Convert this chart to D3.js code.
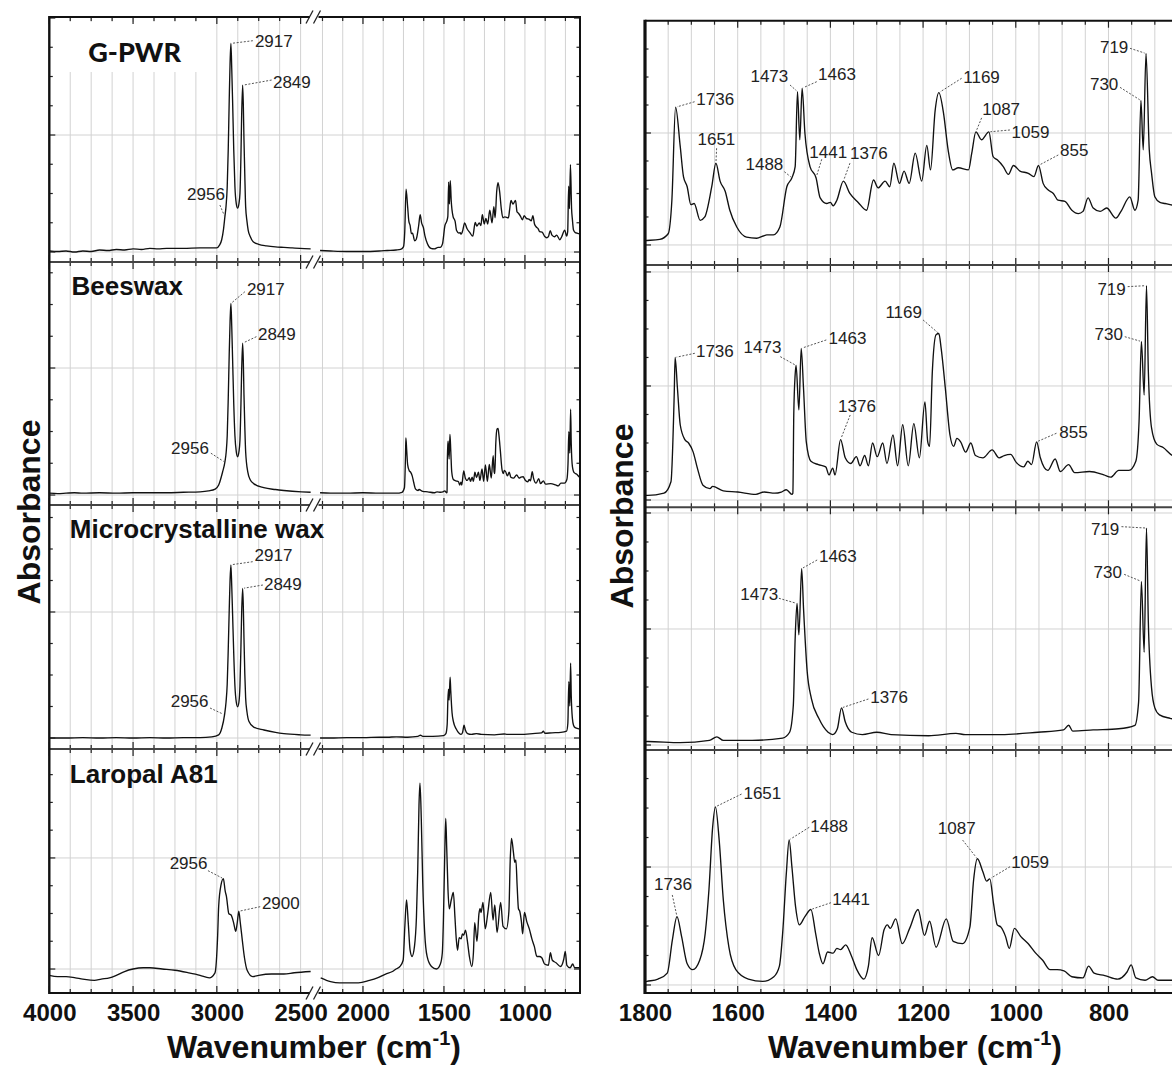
<!DOCTYPE html>
<html><head><meta charset="utf-8">
<script src="https://cdnjs.cloudflare.com/ajax/libs/d3/7.8.5/d3.min.js"></script>
<style>body{margin:0;background:#fff;} svg{display:block;}</style>
</head><body><svg id="chart" width="1172" height="1072"></svg>
<script>
// ---------------- DATA ----------------
const sampleNames = ["G-PWR", "Beeswax", "Microcrystalline wax", "Laropal A81"];

// [wavenumber cm-1, absorbance (a.u.)]
const gpwr = [
[4000,0.02],[3950,0.01],[3900,0.02],[3850,0.0],[3800,0.02],[3750,0.01],[3700,0.04],[3650,0.03],[3600,0.05],[3550,0.04],[3500,0.06],[3450,0.05],[3400,0.07],[3350,0.06],[3300,0.07],[3200,0.07],[3100,0.08],[3050,0.08],[3001,0.08],[2985,0.13],[2971,0.24],[2960,0.45],[2952,0.69],[2945,0.9],[2938,1.28],[2932,2.0],[2926,2.98],[2921,3.7],[2916,4.09],[2911,3.6],[2906,2.98],[2899,2.0],[2892,1.28],[2884,0.95],[2876,0.86],[2868,0.95],[2862,1.15],[2856,1.9],[2852,2.65],[2846,3.27],[2842,2.9],[2838,2.2],[2833,1.5],[2828,0.89],[2820,0.6],[2813,0.43],[2800,0.3],[2783,0.2],[2750,0.15],[2703,0.12],[2650,0.1],[2600,0.09],[2550,0.08],[2504,0.07],[2440,0.06],
[2265,0.03],[2200,0.02],[2100,0.01],[2000,0.01],[1900,0.02],[1850,0.03],[1796,0.04],[1768,0.05],[1750,0.10],[1742,0.40],[1734,1.23],[1724,0.88],[1717,0.61],[1709,0.52],[1701,0.36],[1694,0.37],[1681,0.22],[1671,0.25],[1656,0.52],[1647,0.73],[1638,0.57],[1627,0.48],[1617,0.31],[1602,0.16],[1581,0.07],[1559,0.06],[1545,0.08],[1537,0.09],[1523,0.09],[1509,0.16],[1494,0.52],[1483,0.60],[1476,0.70],[1471,1.37],[1466,0.94],[1461,1.40],[1455,1.00],[1444,0.70],[1431,0.60],[1422,0.42],[1408,0.37],[1400,0.38],[1394,0.35],[1386,0.40],[1372,0.57],[1358,0.46],[1340,0.38],[1322,0.31],[1307,0.58],[1297,0.51],[1282,0.57],[1272,0.52],[1263,0.73],[1251,0.55],[1241,0.66],[1230,0.55],[1217,0.82],[1203,0.57],[1192,0.89],[1184,0.67],[1174,1.2],[1166,1.36],[1156,1.18],[1146,0.85],[1136,0.67],[1124,0.69],[1102,0.67],[1095,0.82],[1086,1.01],[1074,0.94],[1058,1.01],[1049,0.79],[1040,0.76],[1027,0.70],[1016,0.63],[1005,0.71],[991,0.66],[973,0.64],[961,0.61],[951,0.71],[941,0.55],[930,0.49],[919,0.46],[909,0.40],[894,0.39],[879,0.31],[865,0.28],[855,0.30],[844,0.42],[833,0.33],[818,0.30],[804,0.33],[784,0.24],[773,0.30],[754,0.43],[743,0.31],[736,0.40],[730,1.29],[725,0.85],[719,1.71],[712,0.85],[707,0.64],[700,0.43],[689,0.38],[678,0.37],[667,0.36],[655,0.35]
];

const beeswax = [
[4000,0.04],[3950,0.03],[3900,0.04],[3850,0.05],[3800,0.04],[3700,0.05],[3600,0.04],[3500,0.05],[3400,0.05],[3300,0.05],[3200,0.06],[3100,0.07],[3050,0.09],[3010,0.13],[2989,0.22],[2966,0.5],[2952,0.72],[2944,0.95],[2938,1.3],[2932,2.1],[2926,3.1],[2921,3.8],[2916,4.2],[2911,3.7],[2906,3.0],[2899,2.0],[2892,1.3],[2884,0.95],[2876,0.84],[2868,0.95],[2862,1.2],[2856,2.0],[2852,2.7],[2846,3.33],[2842,2.95],[2838,2.2],[2833,1.5],[2828,0.95],[2815,0.5],[2800,0.33],[2780,0.25],[2720,0.16],[2650,0.12],[2600,0.1],[2494,0.07],[2440,0.06],
[2265,0.05],[2200,0.04],[2100,0.04],[2000,0.05],[1900,0.04],[1850,0.04],[1794,0.04],[1759,0.06],[1744,0.16],[1737,0.92],[1735,1.25],[1730,0.98],[1724,0.66],[1714,0.53],[1706,0.50],[1696,0.42],[1687,0.28],[1675,0.13],[1660,0.10],[1654,0.12],[1631,0.08],[1600,0.07],[1561,0.05],[1543,0.07],[1520,0.06],[1506,0.07],[1495,0.09],[1483,0.05],[1481,0.06],[1479,0.75],[1476,1.10],[1474,1.18],[1468,0.79],[1463,1.33],[1458,0.98],[1452,0.51],[1442,0.34],[1426,0.31],[1410,0.29],[1403,0.22],[1395,0.28],[1390,0.22],[1378,0.53],[1368,0.37],[1356,0.32],[1344,0.38],[1336,0.30],[1326,0.39],[1318,0.30],[1309,0.50],[1299,0.38],[1287,0.50],[1278,0.32],[1265,0.57],[1255,0.30],[1244,0.66],[1232,0.30],[1220,0.67],[1208,0.37],[1196,0.86],[1190,0.51],[1186,0.47],[1180,1.13],[1172,1.45],[1166,1.46],[1161,1.33],[1152,0.98],[1142,0.57],[1134,0.47],[1127,0.54],[1119,0.51],[1108,0.42],[1097,0.50],[1087,0.39],[1071,0.37],[1051,0.44],[1036,0.37],[1025,0.39],[1011,0.40],[999,0.33],[983,0.29],[974,0.34],[966,0.31],[955,0.51],[947,0.37],[931,0.26],[915,0.36],[904,0.25],[886,0.31],[873,0.24],[841,0.25],[810,0.22],[795,0.20],[778,0.26],[756,0.26],[741,0.34],[734,0.69],[729,1.39],[723,0.92],[718,1.88],[714,1.13],[707,0.63],[696,0.49],[682,0.46],[662,0.39],[655,0.38]
];

const microwax = [
[4000,0.0],[3900,0.0],[3800,0.01],[3700,0.0],[3600,0.01],[3500,0.0],[3400,0.01],[3300,0.0],[3200,0.01],[3100,0.01],[3030,0.03],[2989,0.08],[2970,0.25],[2954,0.58],[2945,0.9],[2938,1.35],[2932,2.2],[2926,3.2],[2921,3.95],[2916,4.33],[2911,3.8],[2906,3.1],[2899,2.1],[2892,1.3],[2884,0.9],[2876,0.78],[2868,0.9],[2862,1.3],[2856,2.3],[2852,3.1],[2846,3.74],[2842,3.3],[2838,2.5],[2833,1.6],[2828,1.0],[2820,0.65],[2808,0.41],[2780,0.27],[2719,0.2],[2650,0.14],[2600,0.11],[2500,0.08],[2440,0.07],
[2265,0.0],[2200,0.0],[2100,0.01],[2000,0.01],[1900,0.02],[1850,0.02],[1794,0.03],[1724,0.02],[1661,0.04],[1645,0.07],[1631,0.04],[1569,0.04],[1503,0.06],[1488,0.11],[1480,0.34],[1476,0.92],[1472,1.22],[1468,0.95],[1462,1.52],[1458,1.18],[1450,0.63],[1441,0.40],[1425,0.23],[1405,0.11],[1395,0.09],[1385,0.14],[1376,0.32],[1368,0.20],[1354,0.11],[1331,0.09],[1300,0.11],[1269,0.09],[1188,0.08],[1129,0.10],[1109,0.09],[1031,0.09],[952,0.11],[897,0.13],[886,0.17],[877,0.12],[833,0.13],[778,0.14],[743,0.17],[735,0.37],[729,1.41],[723,0.80],[718,1.87],[714,1.06],[707,0.49],[700,0.32],[690,0.26],[667,0.23],[655,0.22]
];

const laropal = [
[4000,-0.02],[3950,-0.03],[3900,-0.03],[3844,-0.04],[3800,-0.05],[3731,-0.06],[3690,-0.05],[3641,-0.04],[3600,-0.02],[3551,0.01],[3500,0.03],[3439,0.04],[3400,0.04],[3326,0.03],[3250,0.02],[3169,0.0],[3100,-0.02],[3045,-0.04],[3011,0.0],[2995,0.3],[2989,0.53],[2975,0.7],[2961,0.75],[2950,0.65],[2943,0.61],[2928,0.47],[2915,0.46],[2900,0.4],[2887,0.33],[2878,0.4],[2869,0.49],[2860,0.4],[2848,0.26],[2835,0.12],[2819,0.02],[2786,-0.03],[2750,-0.02],[2674,-0.01],[2600,-0.01],[2538,0.0],[2440,0.01],
[2261,-0.04],[2200,-0.07],[2144,-0.08],[2028,-0.08],[1960,-0.06],[1911,-0.04],[1860,-0.01],[1818,0.01],[1796,0.03],[1772,0.05],[1752,0.10],[1741,0.38],[1731,0.58],[1721,0.41],[1709,0.18],[1697,0.13],[1682,0.21],[1670,0.44],[1662,0.81],[1654,1.34],[1648,1.51],[1640,1.23],[1631,0.72],[1619,0.32],[1604,0.13],[1577,0.05],[1546,0.03],[1522,0.07],[1510,0.16],[1503,0.44],[1495,0.95],[1489,1.23],[1483,1.00],[1475,0.66],[1467,0.51],[1455,0.58],[1442,0.64],[1432,0.44],[1424,0.27],[1416,0.18],[1406,0.28],[1394,0.27],[1386,0.31],[1378,0.30],[1367,0.34],[1355,0.25],[1343,0.13],[1328,0.05],[1318,0.16],[1310,0.40],[1296,0.25],[1284,0.47],[1277,0.51],[1271,0.48],[1259,0.56],[1245,0.35],[1229,0.48],[1211,0.64],[1197,0.42],[1186,0.54],[1172,0.32],[1150,0.56],[1135,0.37],[1115,0.35],[1099,0.49],[1091,0.89],[1083,1.07],[1071,0.96],[1063,0.88],[1056,0.90],[1048,0.69],[1040,0.51],[1032,0.49],[1022,0.41],[1014,0.31],[1003,0.48],[989,0.41],[973,0.35],[957,0.27],[942,0.21],[926,0.13],[911,0.13],[896,0.12],[879,0.07],[855,0.06],[843,0.16],[831,0.10],[808,0.08],[780,0.05],[760,0.11],[751,0.17],[741,0.06],[721,0.04],[705,0.07],[693,0.04],[665,0.04],[655,0.04]
];

const spectra = [gpwr, beeswax, microwax, laropal];

const leftTickLabels = [4000, 3500, 3000, 2500, 2000, 1500, 1000];
const rightTickLabels = [1800, 1600, 1400, 1200, 1000, 800];

// peak annotations: [panel index, label, target wavenumber, text anchor]
const leftPeakLabels = [
[0,"2917",2916,"start"],[0,"2849",2846,"start"],[0,"2956",2952,"end"],
[1,"2917",2916,"start"],[1,"2849",2846,"start"],[1,"2956",2952,"end"],
[2,"2917",2916,"start"],[2,"2849",2846,"start"],[2,"2956",2954,"end"],
[3,"2956",2961,"end"],[3,"2900",2869,"start"]
];
const rightPeakLabels = [
[0,"1736",1734,"start"],[0,"1651",1647,"middle"],[0,"1473",1471,"end"],[0,"1463",1461,"start"],[0,"1488",1483,"end"],[0,"1441",1431,"start"],[0,"1376",1372,"start"],[0,"1169",1166,"start"],[0,"1087",1086,"start"],[0,"1059",1058,"start"],[0,"855",951,"start"],[0,"719",719,"end"],[0,"730",730,"end"],
[1,"1736",1735,"start"],[1,"1473",1474,"end"],[1,"1463",1463,"start"],[1,"1376",1378,"start"],[1,"1169",1166,"end"],[1,"855",955,"start"],[1,"719",718,"end"],[1,"730",729,"end"],
[2,"1463",1462,"start"],[2,"1473",1472,"end"],[2,"1376",1376,"start"],[2,"719",718,"end"],[2,"730",729,"end"],
[3,"1736",1731,"middle"],[3,"1651",1648,"start"],[3,"1488",1489,"start"],[3,"1441",1442,"start"],[3,"1087",1083,"middle"],[3,"1059",1056,"start"]
];

// ---------------- LAYOUT ----------------
// label placement relative to the peak: [text dx, text dy, leader dx, leader dy]
const leftLabelOffsets = [
[24,3.6,22,-2.7],[30.3,2.8,29,-5.2],[0,-16.8,-5,-11.8],
[16,-8.5,14,-11.8],[15.3,-3.2,13.8,-6.5],[-16,-8,-14,-9],
[23.7,-3.8,21.8,-3.1],[21.3,1.6,20.3,-3.4],[-16,-7.8,-14.5,-6.8],
[-15.9,-9.7,-15.4,-8],[23.1,-2.3,21.4,-4.6]
];
const rightLabelOffsets = [
[20.7,-2.2,19,-5.5],[0.5,-18,0.7,-15],[-9.2,-10,-7.5,-6.6],[16,-8,14.6,-6.5],[-8.6,-7.8,-7.6,-6.1],[-6.7,-19.8,5.7,-18.5],[6.6,-22,6.6,-18],[24.4,-9.7,22.8,-14.4],[6.3,-16.9,5.7,-14],[22.7,6.1,21,-1.9],[21.5,-9.5,19.8,-10.5],[-17.7,-0.5,-16,-5.2],[-22.6,-10.5,-20.9,-13.2],
[20.8,-0.8,19.7,-4.2],[-14.7,-12.2,-15.8,-8.8],[27.4,-4.1,25.1,-8.4],[-2.5,-27.9,9.6,-24.6],[-16.9,-15.9,-15.8,-13.6],[22.7,-4.2,19.8,-8.6],[-20.7,9.3,-18.8,1],[-18.4,-1.5,-16.6,-4.8],
[17.3,-7,15.5,-8.7],[-18.9,-3.5,-18.1,-5.2],[28.7,-4.6,26.9,-8.9],[-27.2,6.9,-25,-1.4],[-19.4,-3.1,-17.2,-7.1],
[-4,-26.6,-4.7,-21.6],[28,-7.5,26.1,-12.8],[21.1,-8.2,20.1,-12.6],[21.2,-4.5,20.1,-6.8],[-20.6,-24.7,-14.7,-18.7],[21.3,-10.5,20.2,-12.1]
];

const LEFT = {x0:49.3, xa:314, xb:316, x1:580, tops:[17,262,505,749], bots:[262,505,749,993]};
const RIGHT = {x0:645, x1:1178, tops:[20.7,265,507.3,750], bots:[265,507.3,750,993]};
// y-scale per panel: domain lo..hi, gridline base and step
const leftY = [
{lo:-0.196, hi:4.608, base:0, step:2.294},
{lo:-0.219, hi:5.11, base:0, step:2.785},
{lo:-0.275, hi:5.825, base:0, step:3.15},
{lo:-0.161, hi:1.783, base:0.03, step:0.885}
];
const rightY = [
{lo:-0.179, hi:2.003, base:0, step:1},
{lo:-0.064, hi:2.061, base:0, step:1},
{lo:-0.043, hi:2.049, base:0, step:1},
{lo:-0.068, hi:1.992, base:0, step:1}
];
const nameLabelPos = [[88.3,61.7],[71.6,295],[69.8,538],[69.8,783]];

const FONT = "'Liberation Sans', Arial, Helvetica, sans-serif";
const GRID = "#d2d2d2";

// ---------------- DRAW ----------------
const svg = d3.select("#chart");
svg.append("rect").attr("width",1172).attr("height",1072).attr("fill","#fff");
const defs = svg.append("defs");

const xLA = d3.scaleLinear().domain([4000,2420]).range([LEFT.x0, LEFT.xa]);
const xLB = d3.scaleLinear().domain([2290,660]).range([LEFT.xb, LEFT.x1]);
const xR  = d3.scaleLinear().domain([1800,650]).range([RIGHT.x0, RIGHT.x1]);

function yTicks(cfg){
  const out=[], minor=cfg.step/4;
  const kmin=Math.ceil((cfg.lo-cfg.base)/minor-1e-6), kmax=Math.floor((cfg.hi-cfg.base)/minor+1e-6);
  for(let k=kmin;k<=kmax;k++) out.push({v:cfg.base+k*minor, major:(((k%4)+4)%4)===0});
  return out;
}
function valueAt(data,w){
  for(let i=0;i<data.length-1;i++){
    const [w0,a0]=data[i],[w1,a1]=data[i+1];
    if(w<=w0 && w>=w1){ const t=(w0===w1)?0:(w0-w)/(w0-w1); return a0+(a1-a0)*t; }
  }
  return 0;
}
function mkLine(x,y){ return d3.line().x(d=>x(d[0])).y(d=>y(d[1])).curve(d3.curveMonotoneX); }

function hline(g,x1,x2,y,col,w){ g.append("line").attr("x1",x1).attr("x2",x2).attr("y1",y).attr("y2",y).attr("stroke",col).attr("stroke-width",w); }
function vline(g,x,y1,y2,col,w){ g.append("line").attr("x1",x).attr("x2",x).attr("y1",y1).attr("y2",y2).attr("stroke",col).attr("stroke-width",w); }

const leftYScales=[], rightYScales=[];

// ---- left chart panels
for(let i=0;i<4;i++){
  const top=LEFT.tops[i], bot=LEFT.bots[i], cfg=leftY[i];
  const y=d3.scaleLinear().domain([cfg.lo,cfg.hi]).range([bot,top]);
  leftYScales.push(y);
  const g=svg.append("g");
  d3.range(3875,2420,-125).forEach(w=>vline(g,xLA(w),top,bot,GRID,1));
  d3.range(2250,660,-125).forEach(w=>vline(g,xLB(w),top,bot,GRID,1));
  yTicks(cfg).filter(t=>t.major && y(t.v)>top+2 && y(t.v)<bot-1).forEach(t=>hline(g,LEFT.x0,LEFT.x1,y(t.v),GRID,1));
  if(i===0){ g.append("rect").attr("x",51).attr("y",22).attr("width",149).attr("height",50).attr("fill","#fff"); }
  const cid="clipL"+i;
  defs.append("clipPath").attr("id",cid).append("rect").attr("x",LEFT.x0).attr("y",top).attr("width",LEFT.x1-LEFT.x0).attr("height",bot-top);
  const data=spectra[i];
  g.append("path").attr("clip-path",`url(#${cid})`).attr("d",mkLine(xLA,y)(data.filter(d=>d[0]>=2420)))
    .attr("fill","none").attr("stroke","#111").attr("stroke-width",1.35).attr("stroke-linejoin","round");
  g.append("path").attr("clip-path",`url(#${cid})`).attr("d",mkLine(xLB,y)(data.filter(d=>d[0]<=2290)))
    .attr("fill","none").attr("stroke","#111").attr("stroke-width",1.35).attr("stroke-linejoin","round");
  // x ticks (top & bottom, inward)
  const xt=[...d3.range(4000,2420,-125).map(w=>({x:xLA(w),major:w%500===0})), ...d3.range(2250,660,-125).map(w=>({x:xLB(w),major:w%500===0}))];
  xt.forEach(t=>{ const L=t.major?7:4;
    vline(g,t.x,bot,bot-L,"#222",1.2); vline(g,t.x,top,top+L,"#222",1.2); });
  // y ticks (left & right, inward)
  yTicks(cfg).forEach(t=>{ const yy=y(t.v); if(yy<top+1||yy>bot-1) return; const L=t.major?6:3.5;
    hline(g,LEFT.x0,LEFT.x0+L,yy,"#222",1.2); hline(g,LEFT.x1,LEFT.x1-L,yy,"#222",1.2); });
}

// ---- right chart panels
for(let i=0;i<4;i++){
  const top=RIGHT.tops[i], bot=RIGHT.bots[i], cfg=rightY[i];
  const y=d3.scaleLinear().domain([cfg.lo,cfg.hi]).range([bot,top]);
  rightYScales.push(y);
  const g=svg.append("g");
  d3.range(1750,650,-50).forEach(w=>vline(g,xR(w),top,bot,GRID,1));
  yTicks(cfg).filter(t=>t.major && y(t.v)>top+2 && y(t.v)<bot-1).forEach(t=>hline(g,RIGHT.x0,RIGHT.x1,y(t.v),GRID,1));
  const cid="clipR"+i;
  defs.append("clipPath").attr("id",cid).append("rect").attr("x",RIGHT.x0).attr("y",top).attr("width",RIGHT.x1-RIGHT.x0).attr("height",bot-top);
  g.append("path").attr("clip-path",`url(#${cid})`).attr("d",mkLine(xR,y)(spectra[i].filter(d=>d[0]<=1860)))
    .attr("fill","none").attr("stroke","#111").attr("stroke-width",1.35).attr("stroke-linejoin","round");
  d3.range(1800,650,-50).forEach(w=>{ const L=(w%200===0)?7:4; const x=xR(w);
    vline(g,x,bot,bot-L,"#222",1.2); vline(g,x,top,top+L,"#222",1.2); });
  yTicks(cfg).forEach(t=>{ const yy=y(t.v); if(yy<top+1||yy>bot-1) return; const L=t.major?6:3.5;
    hline(g,RIGHT.x0,RIGHT.x0+L,yy,"#222",1.2); });
}

// ---- frames
const fr=svg.append("g");
[LEFT.tops[0],...LEFT.tops.slice(1),LEFT.bots[3]].forEach((yy,k)=>{
  const outer=(k===0||k===4); const col=outer?"#111":"#444";
  hline(fr,LEFT.x0,310,yy,col,2); hline(fr,318.5,LEFT.x1,yy,col,2);
  // break marks
  fr.append("line").attr("x1",306).attr("y1",yy+6.5).attr("x2",313).attr("y2",yy-6.5).attr("stroke","#222").attr("stroke-width",1.3);
  fr.append("line").attr("x1",313.5).attr("y1",yy+6.5).attr("x2",320.5).attr("y2",yy-6.5).attr("stroke","#222").attr("stroke-width",1.3);
});
vline(fr,LEFT.x0,LEFT.tops[0]-1,LEFT.bots[3]+1,"#111",2.4);
vline(fr,LEFT.x1,LEFT.tops[0]-1,LEFT.bots[3]+1,"#111",2);
[RIGHT.tops[0],...RIGHT.tops.slice(1),RIGHT.bots[3]].forEach((yy,k)=>{
  const outer=(k===0||k===4);
  hline(fr,RIGHT.x0,RIGHT.x1,yy,outer?"#111":"#444",2);
});
vline(fr,RIGHT.x0,RIGHT.tops[0]-1,RIGHT.bots[3]+1,"#111",3.2);

// ---- tick labels via axes
const axL=svg.append("g").attr("transform",`translate(0,${LEFT.bots[3]})`);
axL.append("g").call(d3.axisBottom(xLA).tickValues(leftTickLabels.filter(v=>v>=2420)).tickSize(0).tickFormat(d3.format("d")));
axL.append("g").call(d3.axisBottom(xLB).tickValues(leftTickLabels.filter(v=>v<=2290)).tickSize(0).tickFormat(d3.format("d")));
const axR=svg.append("g").attr("transform",`translate(0,${RIGHT.bots[3]})`);
axR.append("g").call(d3.axisBottom(xR).tickValues(rightTickLabels).tickSize(0).tickFormat(d3.format("d")));
svg.selectAll(".domain").remove();
svg.selectAll(".tick text").attr("y",28).attr("dy",0).attr("font-family",FONT).attr("font-weight","bold")
  .attr("font-size",24).attr("fill","#111");

// ---- axis titles
function xTitle(cx){
  const t=svg.append("text").attr("x",cx).attr("y",1058).attr("text-anchor","middle")
    .attr("font-family",FONT).attr("font-weight","bold").attr("font-size",32).attr("fill","#111");
  t.append("tspan").text("Wavenumber (cm");
  t.append("tspan").attr("font-size",20).attr("dy",-13).text("-1");
  t.append("tspan").attr("font-size",32).attr("dy",13).text(")");
}
xTitle(314); xTitle(915);
function yTitle(x,cy){
  svg.append("text").attr("transform",`translate(${x},${cy}) rotate(-90)`).attr("text-anchor","middle")
    .attr("font-family",FONT).attr("font-weight","bold").attr("font-size",32).attr("fill","#111").text("Absorbance");
}
yTitle(40,512); yTitle(633,516);

// ---- sample name labels
sampleNames.forEach((n,i)=>{
  const [x,y]=nameLabelPos[i];
  svg.append("text").attr("x",x).attr("y",y).attr("font-family", i===0?"Lato, 'Open Sans', sans-serif":FONT)
    .attr("font-weight", i===0?900:"bold").attr("font-size", i===0?27:26).attr("fill","#111").text(n);
});

// ---- peak labels
function drawLabel(x0,y0,text,anchor,off){
  const [dx,dy,lx,ly]=off;
  const sx=x0+lx, sy=y0+ly; const len=Math.hypot(lx,ly)||1;
  const ex=x0+lx/len*1.5, ey=y0+ly/len*1.5;
  svg.append("line").attr("x1",sx).attr("y1",sy).attr("x2",ex).attr("y2",ey)
    .attr("stroke","#555").attr("stroke-width",1).attr("stroke-dasharray","2,1.6");
  svg.append("text").attr("x",x0+dx).attr("y",y0+dy).attr("text-anchor",anchor)
    .attr("font-family",FONT).attr("font-size",17).attr("fill","#222").text(text);
}
leftPeakLabels.forEach((a,k)=>{
  const [p,text,w,anchor]=a; const y=leftYScales[p];
  drawLabel(xLA(w), y(valueAt(spectra[p],w)), text, anchor, leftLabelOffsets[k]);
});
rightPeakLabels.forEach((a,k)=>{
  const [p,text,w,anchor]=a; const y=rightYScales[p];
  drawLabel(xR(w), y(valueAt(spectra[p],w)), text, anchor, rightLabelOffsets[k]);
});
</script></body></html>
